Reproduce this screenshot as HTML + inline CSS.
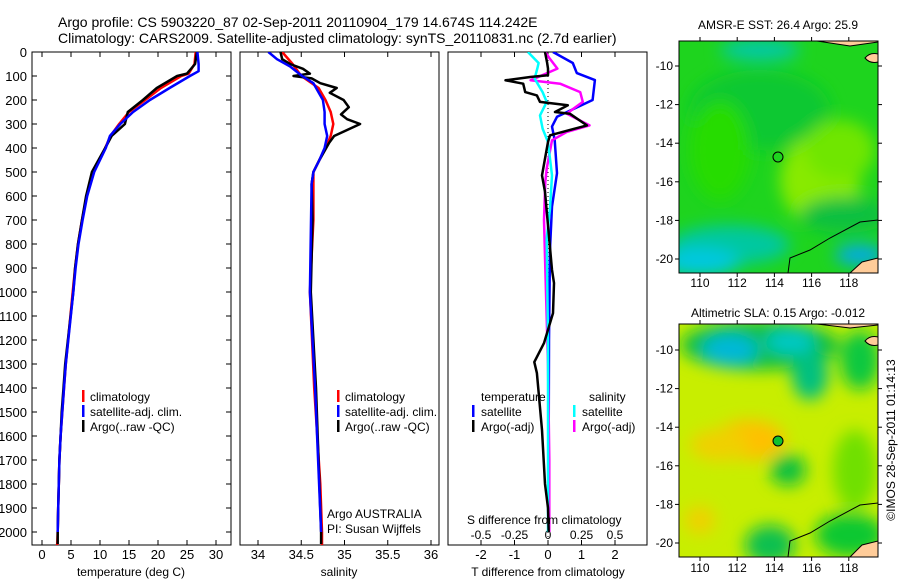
<!DOCTYPE html>
<html><head><meta charset="utf-8">
<style>
html,body{margin:0;padding:0;background:#fff;}
svg{display:block;font-family:"Liberation Sans",sans-serif;}
</style></head>
<body>
<svg id="chart" width="900" height="580" viewBox="0 0 900 580" xmlns="http://www.w3.org/2000/svg">
<defs>
<clipPath id="c1"><rect x="32" y="52" width="199" height="493"/></clipPath>
<clipPath id="c2"><rect x="240" y="52" width="199" height="493"/></clipPath>
<clipPath id="c3"><rect x="448" y="52" width="199" height="493"/></clipPath>
<clipPath id="m1"><rect x="679" y="41" width="199" height="232"/></clipPath>
<clipPath id="m2"><rect x="679" y="324" width="199" height="233"/></clipPath>
<filter id="bl" x="-50%" y="-50%" width="200%" height="200%"><feGaussianBlur stdDeviation="8"/></filter>
</defs>
<g font-size="14" fill="#000">
<text x="58" y="27">Argo profile: CS 5903220_87 02-Sep-2011 20110904_179 14.674S 114.242E</text>
<text x="58" y="43">Climatology: CARS2009. Satellite-adjusted climatology: synTS_20110831.nc (2.7d earlier)</text>
</g>

<!-- maps -->
<g>
<g clip-path="url(#m1)">
<rect x="679" y="41" width="199" height="232" fill="#1ed41e"/>
<g filter="url(#bl)">
<ellipse cx="760" cy="110" rx="70" ry="40" fill="#10c830"/>
<ellipse cx="820" cy="180" rx="40" ry="45" fill="#88ea00"/>
<ellipse cx="840" cy="150" rx="35" ry="30" fill="#70e600"/>
<ellipse cx="720" cy="150" rx="30" ry="50" fill="#26dc00"/>
<ellipse cx="730" cy="245" rx="60" ry="20" fill="#00c8a0"/>
<ellipse cx="700" cy="262" rx="40" ry="14" fill="#00c8e0"/>
<ellipse cx="760" cy="50" rx="40" ry="10" fill="#00c8b0"/>
<ellipse cx="860" cy="255" rx="25" ry="10" fill="#00a8f0"/>
<ellipse cx="845" cy="215" rx="45" ry="18" fill="#10c040"/>
</g>
<path d="M817 41 L850 46 L878 42 L878 41 Z" fill="#ffcc99" stroke="#000" stroke-width="1"/>
<path d="M865 58 Q870 52 878 54 L878 62 Q870 64 865 58 Z" fill="#ffcc99" stroke="#000" stroke-width="1"/>
<path d="M788 273 L790 258 L810 250 L830 238 L860 222 L878 220" fill="none" stroke="#000" stroke-width="1"/>
<path d="M850 273 L862 262 L878 258 L878 273 Z" fill="#ffcc99" stroke="#000" stroke-width="1"/>
<circle cx="778" cy="157" r="5" fill="#1ed41e" stroke="#000" stroke-width="1"/>
</g>
<rect x="679" y="41" width="199" height="232" fill="none" stroke="#000" stroke-width="1"/>
</g>
<g>
<g clip-path="url(#m2)">
<rect x="679" y="324" width="199" height="233" fill="#c8ee00"/>
<g filter="url(#bl)">
<ellipse cx="760" cy="345" rx="80" ry="25" fill="#10c040"/>
<ellipse cx="730" cy="350" rx="28" ry="16" fill="#00b8d8"/>
<ellipse cx="790" cy="342" rx="25" ry="12" fill="#00c8c8"/>
<ellipse cx="810" cy="375" rx="18" ry="25" fill="#00c080"/>
<ellipse cx="860" cy="360" rx="20" ry="30" fill="#10c840"/>
<ellipse cx="750" cy="440" rx="35" ry="20" fill="#ffc000"/>
<ellipse cx="720" cy="445" rx="30" ry="16" fill="#f0d000"/>
<ellipse cx="788" cy="470" rx="18" ry="16" fill="#10c040"/>
<ellipse cx="855" cy="470" rx="22" ry="40" fill="#70e000"/>
<ellipse cx="770" cy="545" rx="25" ry="20" fill="#10c050"/>
<ellipse cx="850" cy="535" rx="35" ry="22" fill="#10c830"/>
<ellipse cx="700" cy="520" rx="15" ry="14" fill="#f0d000"/>
</g>
<path d="M817 324 L850 328 L878 325 L878 324 Z" fill="#ffcc99" stroke="#000" stroke-width="1"/>
<path d="M865 341 Q870 335 878 337 L878 345 Q870 347 865 341 Z" fill="#ffcc99" stroke="#000" stroke-width="1"/>
<path d="M788 557 L790 541 L810 533 L830 521 L860 505 L878 503" fill="none" stroke="#000" stroke-width="1"/>
<path d="M850 557 L862 545 L878 541 L878 557 Z" fill="#ffcc99" stroke="#000" stroke-width="1"/>
<circle cx="778" cy="441" r="5" fill="#10c030" stroke="#000" stroke-width="1"/>
</g>
<rect x="679" y="324" width="199" height="233" fill="none" stroke="#000" stroke-width="1"/>
</g>
<g font-size="12">
<text x="778" y="29" text-anchor="middle">AMSR-E SST: 26.4 Argo: 25.9</text>
<text x="778" y="317" text-anchor="middle">Altimetric SLA: 0.15 Argo: -0.012</text>
<text transform="translate(895,440) rotate(-90)" text-anchor="middle">©IMOS 28-Sep-2011 01:14:13</text>
</g>

<g id="axes"></g>
<g id="marks"></g>
<g id="legends" font-size="12">
<rect x="82" y="390" width="2.5" height="12" fill="#f00"/><text x="90" y="401">climatology</text>
<rect x="82" y="405" width="2.5" height="12" fill="#00f"/><text x="90" y="416">satellite-adj. clim.</text>
<rect x="82" y="420" width="2.5" height="12" fill="#000"/><text x="90" y="431">Argo(..raw -QC)</text>
<rect x="337" y="390" width="2.5" height="12" fill="#f00"/><text x="345" y="401">climatology</text>
<rect x="337" y="405" width="2.5" height="12" fill="#00f"/><text x="345" y="416">satellite-adj. clim.</text>
<rect x="337" y="420" width="2.5" height="12" fill="#000"/><text x="345" y="431">Argo(..raw -QC)</text>
<text x="481" y="401">temperature</text><text x="589" y="401">salinity</text>
<rect x="472" y="405" width="2.5" height="12" fill="#00f"/><text x="481" y="416">satellite</text>
<rect x="472" y="420" width="2.5" height="12" fill="#000"/><text x="481" y="431">Argo(-adj)</text>
<rect x="573" y="405" width="2.5" height="12" fill="#0ff"/><text x="582" y="416">satellite</text>
<rect x="573" y="420" width="2.5" height="12" fill="#f0f"/><text x="582" y="431">Argo(-adj)</text>
<text x="327" y="518">Argo AUSTRALIA</text>
<text x="327" y="533">PI: Susan Wijffels</text>
<text x="467" y="524">S difference from climatology</text>
</g>
</svg>
<script>
// ---- data ----
const depthTicks = [0,100,200,300,400,500,600,700,800,900,1000,1100,1200,1300,1400,1500,1600,1700,1800,1900,2000];
const tempTicks = [0,5,10,15,20,25,30];
const salTicks = [34,34.5,35,35.5,36];
const salTickLabels = ["34","34.5","35","35.5","36"];
const tdiffTicks = [-2,-1,0,1,2];
const sdiffTicks = [-0.5,-0.25,0,0.25,0.5];
const sdiffTickLabels = ["-0.5","-0.25","0","0.25","0.5"];
const lonTicks = [110,112,114,116,118];
const latTicks = [-10,-12,-14,-16,-18,-20];

const tArgoDepth = [0,50,90,100,150,200,250,300,350,400,500,600,700,800,900,1000,1300,1400,1500,1600,1700,1800,1900,2000,2050];
const tArgo = [26.7,26.4,25.0,23.3,19.8,17.4,14.8,14.3,12.0,10.9,8.6,7.6,6.9,6.2,5.7,5.4,4.0,3.7,3.4,3.2,3.0,2.9,2.8,2.7,2.7];
const tClimDepth = [0,50,90,100,150,200,250,300,350,400,500,600,700,800,900,1000,1300,1400,1500,1600,1700,1800,1900,2000,2060];
const tClim = [26.5,26.3,25.3,24.0,20.5,17.8,15.0,13.3,11.8,10.9,8.9,7.7,6.9,6.2,5.7,5.3,4.1,3.8,3.5,3.2,3.0,2.9,2.8,2.7,2.6];
const tSatDepth = [0,50,80,100,150,200,250,300,350,400,500,600,700,800,900,1000,1300,1400,1500,1600,1700,1800,1900,2000];
const tSat = [26.8,27.0,27.0,25.5,22.0,18.6,15.7,13.5,11.7,11.0,9.0,7.8,7.0,6.3,5.8,5.4,4.1,3.8,3.5,3.2,3.0,2.9,2.8,2.7];

const sArgoDepth = [0,30,50,70,90,100,110,130,150,170,200,230,260,280,300,350,380,450,500,550,700,1000,1400,2000,2050];
const sArgo = [34.26,34.28,34.37,34.52,34.60,34.41,34.62,34.72,34.91,34.83,34.99,35.05,34.96,35.03,35.18,34.88,34.82,34.71,34.64,34.62,34.63,34.61,34.67,34.73,34.73];
const sClimDepth = [0,50,100,150,200,250,300,350,400,450,500,700,1000,1400,1800,2000,2060];
const sClim = [34.28,34.40,34.50,34.70,34.78,34.84,34.87,34.84,34.78,34.71,34.64,34.64,34.60,34.65,34.72,34.74,34.74];
const sSatDepth = [0,30,60,100,130,200,250,300,350,400,450,500,550,1000,1400,2000];
const sSat = [34.12,34.22,34.37,34.51,34.64,34.75,34.77,34.77,34.80,34.77,34.71,34.64,34.62,34.60,34.66,34.73];

const dTSatDepth = [0,46,88,117,200,270,311,367,505,644,820,1200,1600,2000];
const dTSat = [0.15,0.74,0.86,1.40,1.33,0.27,0.12,0.20,0.27,0.12,0.06,0.03,0.02,0.01];
const dTArgoDepth = [0,42,69,97,104,118,132,167,181,208,222,250,257,306,347,375,514,583,908,963,1088,1130,1213,1292,1338,1575,1800,1900,2000];
const dTArgo = [-0.09,-0.03,0,0,-0.53,-1.27,-0.74,-0.68,-0.33,-0.24,0.59,0.21,0.65,1.16,0.06,0,-0.18,-0.09,0.12,0.18,0.15,0.06,-0.12,-0.41,-0.33,-0.18,-0.09,0,0.02];
const dSSatDepth = [0,46,69,111,167,208,264,319,375,514,653,778,1200,2000];
const dSSat = [-0.15,-0.07,-0.08,-0.10,-0.04,-0.01,-0.06,-0.04,0,0.03,0.015,-0.01,0,0];
const dSArgoDepth = [0,25,69,118,132,167,208,236,257,306,333,368,486,542,700,900,1300,1700,2000];
const dSArgo = [-0.02,0.01,0.07,-0.13,0.09,0.24,0.26,0.19,0.14,0.31,0.14,0.03,-0.01,-0.02,-0.03,-0.02,0.0,0.01,0.01];

// ---- scales ----
const yD = d => 52 + d*0.24;
const xT = t => 42 + t*5.8;
const xS = s => 258 + (s-34)*86.5;
const xDT = v => 548 + v*33.5;
const xDS = v => 548 + v*134;
const mapLon = v => 700 + (v-110)*18.6;
const mapLat1 = v => 66 + (-10 - v)*19.3;
const mapLat2 = v => 350 + (-10 - v)*19.3;

const NS = "http://www.w3.org/2000/svg";
const axes = document.getElementById('axes');
const marks = document.getElementById('marks');
function mk(tag, attrs, parent){ const e=document.createElementNS(NS,tag); for(const k in attrs) e.setAttribute(k,attrs[k]); parent.appendChild(e); return e; }
function txt(x,y,s,anchor,parent,size){ const e=mk('text',{x:x,y:y,'text-anchor':anchor,'font-size':size||13},parent); e.textContent=s; return e; }

// panel frames
const panels = [[32,'temperature-panel'],[240,'salinity-panel'],[448,'difference-panel']];
panels.forEach(p=>{
  const r = mk('rect',{x:p[0],y:52,width:199,height:493,fill:'none',stroke:'#000','stroke-width':1},axes);
  
  
});
// depth ticks
depthTicks.forEach(d=>{
  const y=yD(d);
  mk('line',{x1:32,x2:37,y1:y,y2:y,stroke:'#000'},axes);
  mk('line',{x1:226,x2:231,y1:y,y2:y,stroke:'#000'},axes);
  const t = txt(27,y+5,String(d),'end',axes,13);
  
  
});
tempTicks.forEach(v=>{
  const x=xT(v);
  mk('line',{x1:x,x2:x,y1:52,y2:57,stroke:'#000'},axes);
  mk('line',{x1:x,x2:x,y1:540,y2:545,stroke:'#000'},axes);
  const t = txt(x,559,String(v),'middle',axes,13);
  
  
});
salTicks.forEach((v,i)=>{
  const x=xS(v);
  mk('line',{x1:x,x2:x,y1:52,y2:57,stroke:'#000'},axes);
  mk('line',{x1:x,x2:x,y1:540,y2:545,stroke:'#000'},axes);
  const t = txt(x,559,salTickLabels[i],'middle',axes,13);
  
  
});
tdiffTicks.forEach(v=>{
  const x=xDT(v);
  mk('line',{x1:x,x2:x,y1:52,y2:57,stroke:'#000'},axes);
  mk('line',{x1:x,x2:x,y1:540,y2:545,stroke:'#000'},axes);
  const t = txt(x,559,String(v),'middle',axes,13);
  
  
});
sdiffTicks.forEach((v,i)=>{
  const t = txt(xDS(v),539,sdiffTickLabels[i],'middle',axes,12);
  
  
});
[['temperature (deg C)',131,'temperature-axis-title'],['salinity',339,'salinity-axis-title'],['T difference from climatology',548,'t-diff-axis-title']].forEach(a=>{
  const t = txt(a[1],576,a[0],'middle',axes,12);
  
  
});
// zero dotted line
mk('line',{x1:548,x2:548,y1:52,y2:545,stroke:'#000','stroke-dasharray':'1,3'},axes);

// map ticks
[[273,41,287,mapLat1],[557,324,572,mapLat2]].forEach(m=>{
  lonTicks.forEach(v=>{
    const x=mapLon(v);
    mk('line',{x1:x,x2:x,y1:m[1]-4,y2:m[1],stroke:'#000'},axes);
    mk('line',{x1:x,x2:x,y1:m[0],y2:m[0]+4,stroke:'#000'},axes);
    const t = txt(x,m[2],String(v),'middle',axes,12);
    
    
  });
  latTicks.forEach(v=>{
    const y=m[3](v);
    mk('line',{x1:675,x2:679,y1:y,y2:y,stroke:'#000'},axes);
    mk('line',{x1:878,x2:882,y1:y,y2:y,stroke:'#000'},axes);
    const t = txt(673,y+4,String(v),'end',axes,12);
    
    
  });
});

// series
function series(depths, vals, xf, color, clip, name, w){
  const pts = depths.map((d,i)=> xf(vals[i]).toFixed(1)+','+yD(d).toFixed(1)).join(' ');
  const p = mk('polyline',{points:pts,fill:'none',stroke:color,'stroke-width':w||2.5,'stroke-linejoin':'round','clip-path':'url(#'+clip+')'},marks);
  
  
}
series(tClimDepth,tClim,xT,'#f00','c1','temp-climatology-line');
series(tArgoDepth,tArgo,xT,'#000','c1','temp-argo-line');
series(tSatDepth,tSat,xT,'#00f','c1','temp-satellite-line');
series(sClimDepth,sClim,xS,'#f00','c2','sal-climatology-line');
series(sArgoDepth,sArgo,xS,'#000','c2','sal-argo-line');
series(sSatDepth,sSat,xS,'#00f','c2','sal-satellite-line');
series(dTSatDepth,dTSat,xDT,'#00f','c3','t-diff-satellite-line');
series(dSArgoDepth,dSArgo,xDS,'#f0f','c3','s-diff-argo-line');
series(dSSatDepth,dSSat,xDS,'#0ff','c3','s-diff-satellite-line');
series(dTArgoDepth,dTArgo,xDT,'#000','c3','t-diff-argo-line');
</script>
</body></html>
